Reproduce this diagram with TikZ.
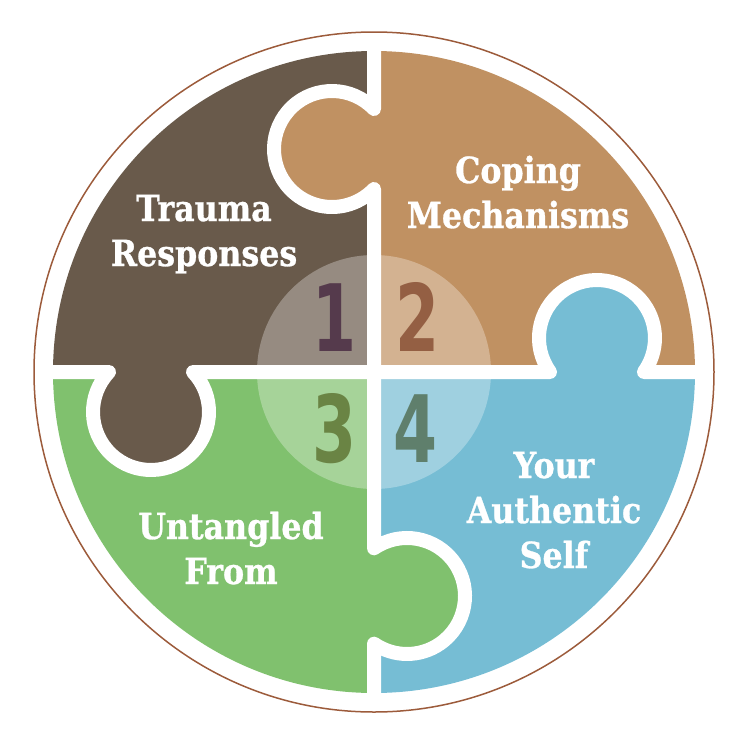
\documentclass[tikz,border=0pt]{standalone}
\usepackage{fontspec}
\newfontfamily\labelfont[FakeStretch=0.88,FakeBold=0.8]{DejaVu Serif}
\newfontfamily\numberfont[FakeStretch=0.68]{DejaVu Sans}
\definecolor{barkbrown}{HTML}{695A4B}
\definecolor{sandtan}{HTML}{C09162}
\definecolor{leafgreen}{HTML}{80C16E}
\definecolor{skyblue}{HTML}{76BDD4}
\definecolor{ringbrown}{HTML}{9C5B3B}
\definecolor{numplum}{HTML}{553A4C}
\definecolor{numrust}{HTML}{945F43}
\definecolor{numolive}{HTML}{6A8444}
\definecolor{numslate}{HTML}{5F7F6C}

\begin{document}
\begin{tikzpicture}[x=1pt,y=-1pt,
  seam/.style={white,line width=14pt,line join=round,line cap=round},
  piecelabel/.style={white,align=center,anchor=base,
    font=\labelfont\bfseries\fontsize{36}{45}\selectfont},
  piecenum/.style={anchor=base,font=\numberfont\bfseries\fontsize{93}{93}\selectfont}]
\useasboundingbox (0,0) rectangle (745,740);
\draw[ringbrown,line width=1.5pt] (374,372) circle[radius=340];
\begin{scope}
\clip (374,372) circle[radius=321];
\fill[barkbrown] (0,0) rectangle (374,372);
\fill[sandtan] (374,0) rectangle (745,372);
\fill[leafgreen] (0,372) rectangle (374,740);
\fill[skyblue] (374,372) rectangle (745,740);
\fill[sandtan] (332,149) circle[radius=58];
\fill[barkbrown] (151,412) circle[radius=58];
\fill[leafgreen] (407,596) circle[radius=58];
\fill[skyblue] (597,338) circle[radius=58];
\fill[white,opacity=0.3] (374,372) circle[radius=117];
\end{scope}
\draw[seam] (374,45) -- (374,109) arc[start angle=-43.6,end angle=-316.4,radius=58]
  -- (374,548.3) arc[start angle=-124.7,end angle=124.7,radius=58] -- (374,700);
\draw[seam] (45,372) -- (109,372) arc[start angle=223.6,end angle=-43.6,radius=58]
  -- (550,372) arc[start angle=144.1,end angle=395.9,radius=58] -- (703,372);
\node[piecelabel] (trauma) at (204,266) {Trauma\\Responses};
\node[piecelabel] (coping) at (518,228) {Coping\\Mechanisms};
\node[piecelabel] (authentic) at (554,568) {Your\\Authentic\\Self};
\node[piecelabel] (untangled) at (231,584) {Untangled\\From};
\node[piecenum,numplum] (one) at (334,351) {1};
\node[piecenum,numrust] (two) at (417,351) {2};
\node[piecenum,numolive] (three) at (334,462) {3};
\node[piecenum,numslate] (four) at (415,462) {4};
\end{tikzpicture}
\end{document}
